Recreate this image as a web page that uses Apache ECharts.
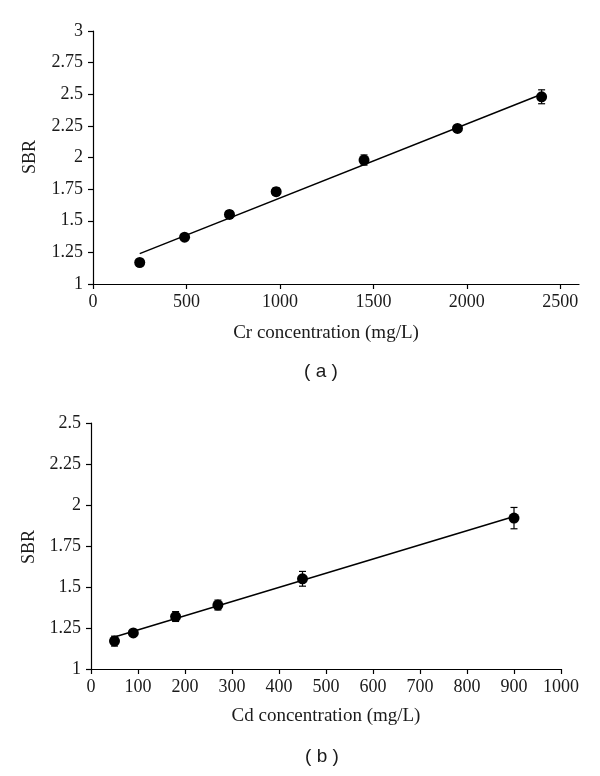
<!DOCTYPE html>
<html>
<head>
<meta charset="utf-8">
<script src="https://cdn.jsdelivr.net/npm/echarts@6/dist/echarts.min.js"></script>
<style>html,body{margin:0;padding:0;background:#fff}#c{width:600px;height:776px}</style>
</head>
<body>
<div id="c"></div>
<script>
// ---- Data (a) Cr ----
var crX = [250, 490, 730, 980, 1450, 1950, 2400];
var crY = [1.17, 1.37, 1.55, 1.73, 1.98, 2.23, 2.48];
var crErr = [0.01, 0.015, 0.03, 0.03, 0.04, 0.02, 0.055];
var crFit = [[250, 1.24], [2400, 2.50]];
var crXTicks = [0, 500, 1000, 1500, 2000, 2500];
var crYTicks = [1, 1.25, 1.5, 1.75, 2, 2.25, 2.5, 2.75, 3];

// ---- Data (b) Cd ----
var cdX = [50, 90, 180, 270, 450, 900];
var cdY = [1.17, 1.22, 1.32, 1.39, 1.55, 1.92];
var cdErr = [0.03, 0.015, 0.03, 0.03, 0.045, 0.065];
var cdFit = [[50, 1.195], [900, 1.93]];
var cdXTicks = [0, 100, 200, 300, 400, 500, 600, 700, 800, 900, 1000];
var cdYTicks = [1, 1.25, 1.5, 1.75, 2, 2.25, 2.5];

var FONT = 'Liberation Serif';
var TXT = '#1a1a1a';

function pts(xs, ys) { return xs.map(function (x, i) { return [x, ys[i]]; }); }
function errData(xs, ys, es) { return xs.map(function (x, i) { return [x, ys[i] - es[i], ys[i] + es[i]]; }); }

function errRender(params, api) {
  var x = api.value(0);
  var lo = api.coord([x, api.value(1)]);
  var hi = api.coord([x, api.value(2)]);
  var w = 3.5;
  var st = { stroke: '#000', lineWidth: 1.2 };
  return {
    type: 'group',
    children: [
      { type: 'line', shape: { x1: lo[0], y1: lo[1], x2: hi[0], y2: hi[1] }, style: st },
      { type: 'line', shape: { x1: lo[0] - w, y1: lo[1], x2: lo[0] + w, y2: lo[1] }, style: st },
      { type: 'line', shape: { x1: hi[0] - w, y1: hi[1], x2: hi[0] + w, y2: hi[1] }, style: st }
    ]
  };
}
function fmt(v) { return String(v); }

function xAxis(idx, max, interval, ticks) {
  return {
    type: 'value', gridIndex: idx, min: 0, max: max, interval: interval,
    splitLine: { show: false },
    axisLine: { show: true, onZero: false, lineStyle: { color: '#000', width: 1.2 } },
    axisTick: { show: true, inside: false, length: 5, customValues: ticks, lineStyle: { color: '#000', width: 1.2 } },
    axisLabel: { customValues: ticks, formatter: fmt, color: TXT, fontFamily: FONT, fontSize: 18, margin: 9 }
  };
}
function yAxis(idx, min, max, interval, ticks) {
  return {
    type: 'value', gridIndex: idx, min: min, max: max, interval: interval,
    splitLine: { show: false },
    axisLine: { show: true, onZero: false, lineStyle: { color: '#000', width: 1.2 } },
    axisTick: { show: true, inside: false, length: 5, customValues: ticks, lineStyle: { color: '#000', width: 1.2 } },
    axisLabel: { customValues: ticks, formatter: fmt, color: TXT, fontFamily: FONT, fontSize: 18, margin: 10 }
  };
}

var chart = echarts.init(document.getElementById('c'), null, { renderer: 'canvas' });
chart.setOption({
  animation: false,
  backgroundColor: '#fff',
  grid: [
    { left: 93, top: 31, width: 486, height: 253 },
    { left: 91, top: 423, width: 470, height: 246 }
  ],
  xAxis: [xAxis(0, 2600, 500, crXTicks), xAxis(1, 1000, 100, cdXTicks)],
  yAxis: [yAxis(0, 1, 3, 0.25, crYTicks), yAxis(1, 1, 2.5, 0.25, cdYTicks)],
  series: [
    { type: 'line', xAxisIndex: 0, yAxisIndex: 0, data: crFit, showSymbol: false, lineStyle: { color: '#000', width: 1.5 }, z: 2 },
    { type: 'custom', xAxisIndex: 0, yAxisIndex: 0, data: errData(crX, crY, crErr), renderItem: errRender, z: 3 },
    { type: 'scatter', xAxisIndex: 0, yAxisIndex: 0, data: pts(crX, crY), symbolSize: 11, itemStyle: { color: '#000', opacity: 1 }, z: 4 },
    { type: 'line', xAxisIndex: 1, yAxisIndex: 1, data: cdFit, showSymbol: false, lineStyle: { color: '#000', width: 1.5 }, z: 2 },
    { type: 'custom', xAxisIndex: 1, yAxisIndex: 1, data: errData(cdX, cdY, cdErr), renderItem: errRender, z: 3 },
    { type: 'scatter', xAxisIndex: 1, yAxisIndex: 1, data: pts(cdX, cdY), symbolSize: 11, itemStyle: { color: '#000', opacity: 1 }, z: 4 }
  ],
  graphic: [
    { type: 'text', x: 30, y: 157, rotation: Math.PI / 2, style: { text: 'SBR', fontFamily: FONT, fontSize: 18, fill: TXT, align: 'center', verticalAlign: 'middle' } },
    { type: 'text', x: 326, y: 333, style: { text: 'Cr concentration (mg/L)', fontFamily: FONT, fontSize: 19, fill: TXT, align: 'center', verticalAlign: 'middle' } },
    { type: 'text', x: 321, y: 372, style: { text: '( a )', fontFamily: 'Liberation Sans', fontSize: 19, fill: TXT, align: 'center', verticalAlign: 'middle' } },
    { type: 'text', x: 29, y: 547, rotation: Math.PI / 2, style: { text: 'SBR', fontFamily: FONT, fontSize: 18, fill: TXT, align: 'center', verticalAlign: 'middle' } },
    { type: 'text', x: 326, y: 716, style: { text: 'Cd concentration (mg/L)', fontFamily: FONT, fontSize: 19, fill: TXT, align: 'center', verticalAlign: 'middle' } },
    { type: 'text', x: 322, y: 757, style: { text: '( b )', fontFamily: 'Liberation Sans', fontSize: 19, fill: TXT, align: 'center', verticalAlign: 'middle' } }
  ]
});
</script>
</body>
</html>
